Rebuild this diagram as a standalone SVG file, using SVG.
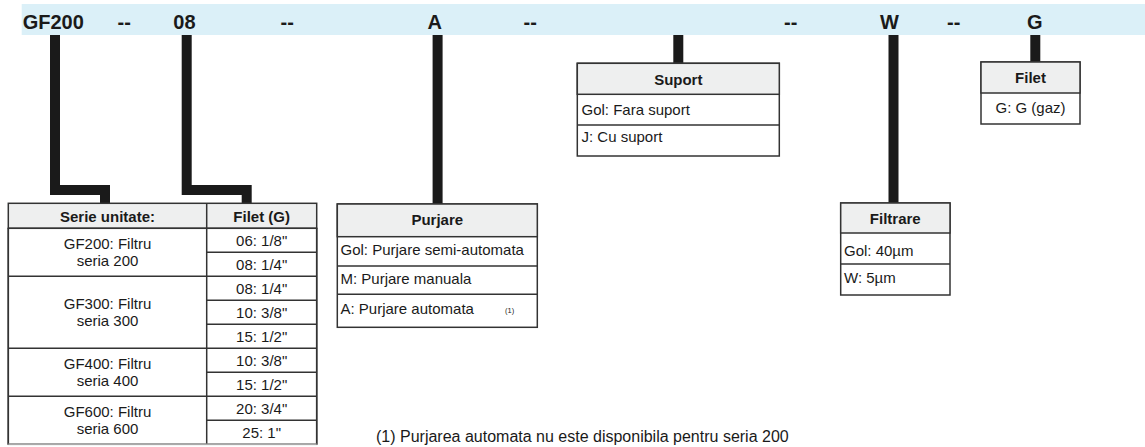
<svg xmlns="http://www.w3.org/2000/svg" width="1145" height="447" viewBox="0 0 1145 447">
<style>
.code{font-family:"Liberation Sans",Arial,sans-serif;font-weight:bold;font-size:20px;fill:#1a1a1a}
.t{font-family:"Liberation Sans",Arial,sans-serif;font-size:15px;fill:#1a1a1a}
.h{font-family:"Liberation Sans",Arial,sans-serif;font-size:15px;font-weight:bold;fill:#1a1a1a;text-anchor:middle}
.c{text-anchor:middle}
.box{fill:#fff;stroke:#333;stroke-width:1.5}
.hd{fill:#eeefef;stroke:#333;stroke-width:1.5}
.ln{stroke:#333;stroke-width:1.5;fill:none}
.conn{fill:none;stroke:#1a1a1a;stroke-width:10;stroke-linejoin:miter}
</style>

<g id="code-bar">
<rect x="21.7" y="4" width="1123.3" height="31" fill="#dbf0f8"/>
<text class="code" x="22.7" y="29.3">GF200</text>
<text class="code" x="117.5" y="29.3">--</text>
<text class="code" x="173.3" y="29.3">08</text>
<text class="code" x="280.5" y="29.3">--</text>
<text class="code" x="427.5" y="29.3">A</text>
<text class="code" x="523.5" y="29.3">--</text>
<text class="code" x="784" y="29.3">--</text>
<text class="code" x="880" y="29.3">W</text>
<text class="code" x="947" y="29.3">--</text>
<text class="code" x="1027" y="29.3">G</text>
</g>

<g id="connectors">
<path class="conn" d="M55,35 V190 H105 V204"/>
<path class="conn" d="M186.7,35 V190 H246.7 V204"/>
<path class="conn" d="M437.6,35 V204"/>
<path class="conn" d="M678.3,35 V63.5"/>
<path class="conn" d="M893.5,35 V203"/>
<path class="conn" d="M1035.3,35 V62"/>
</g>

<g id="serie-table">
<rect class="hd" x="8.3" y="203.3" width="308.4" height="25"/>
<rect class="box" x="8.3" y="228.3" width="308.4" height="216" stroke="none"/>
<path class="ln" d="M8.3,228.3 V444.3 M206.7,203.3 V444.3 M316.7,228.3 V444.3"/>
<path class="ln" d="M8.3,276.3 H316.7 M8.3,348.3 H316.7 M8.3,396.3 H316.7"/>
<path class="ln" d="M206.7,252.3 H316.7 M206.7,300.3 H316.7 M206.7,324.3 H316.7 M206.7,372.3 H316.7 M206.7,420.3 H316.7"/>
<line x1="8.3" y1="444.3" x2="316.7" y2="444.3" stroke="#aaa" stroke-width="1.5"/>
<text class="h" x="107.5" y="221.5">Serie unitate:</text>
<text class="h" x="261.7" y="221.5">Filet (G)</text>
<text class="t c" x="107.5" y="248.8">GF200: Filtru</text>
<text class="t c" x="107.5" y="266.3">seria 200</text>
<text class="t c" x="107.5" y="308.8">GF300: Filtru</text>
<text class="t c" x="107.5" y="326.3">seria 300</text>
<text class="t c" x="107.5" y="368.8">GF400: Filtru</text>
<text class="t c" x="107.5" y="386.3">seria 400</text>
<text class="t c" x="107.5" y="416.8">GF600: Filtru</text>
<text class="t c" x="107.5" y="434.3">seria 600</text>
<text class="t c" x="261.7" y="245.7">06: 1/8"</text>
<text class="t c" x="261.7" y="269.7">08: 1/4"</text>
<text class="t c" x="261.7" y="293.7">08: 1/4"</text>
<text class="t c" x="261.7" y="317.7">10: 3/8"</text>
<text class="t c" x="261.7" y="341.7">15: 1/2"</text>
<text class="t c" x="261.7" y="365.7">10: 3/8"</text>
<text class="t c" x="261.7" y="389.7">15: 1/2"</text>
<text class="t c" x="261.7" y="413.7">20: 3/4"</text>
<text class="t c" x="261.7" y="437.7">25: 1"</text>
</g>

<g id="purjare">
<rect class="box" x="337.3" y="204" width="200" height="123.3"/>
<rect class="hd" x="337.3" y="204" width="200" height="32.7"/>
<path class="ln" d="M337.3,266 H537.3 M337.3,294.3 H537.3"/>
<text class="h" x="437.3" y="224.5">Purjare</text>
<text class="t" x="340.5" y="254.5">Gol: Purjare semi-automata</text>
<text class="t" x="340.5" y="283.5">M: Purjare manuala</text>
<text class="t" x="340.5" y="314">A: Purjare automata</text>
<text class="t" x="505" y="313" style="font-size:7.5px">(1)</text>
</g>

<g id="suport">
<rect class="box" x="577.3" y="63.3" width="202" height="92.7"/>
<rect class="hd" x="577.3" y="63.3" width="202" height="31"/>
<path class="ln" d="M577.3,125 H779.3"/>
<text class="h" x="678.3" y="85">Suport</text>
<text class="t" x="581.5" y="115">Gol: Fara suport</text>
<text class="t" x="581.5" y="141.5">J: Cu suport</text>
</g>

<g id="filtrare">
<rect class="box" x="840.7" y="203" width="109.3" height="92"/>
<rect class="hd" x="840.7" y="203" width="109.3" height="30"/>
<path class="ln" d="M840.7,264 H950"/>
<text class="h" x="895.3" y="224">Filtrare</text>
<text class="t" x="844" y="255.5">Gol: 40µm</text>
<text class="t" x="844" y="283">W: 5µm</text>
</g>

<g id="filet">
<rect class="box" x="981" y="62" width="99" height="62"/>
<rect class="hd" x="981" y="62" width="99" height="31"/>
<text class="h" x="1030.5" y="83">Filet</text>
<text class="t c" x="1030.5" y="113">G: G (gaz)</text>
</g>

<g id="footnote">
<text class="t" x="376" y="441.5" style="font-size:16px">(1) Purjarea automata nu este disponibila pentru seria 200</text>
</g>
</svg>
